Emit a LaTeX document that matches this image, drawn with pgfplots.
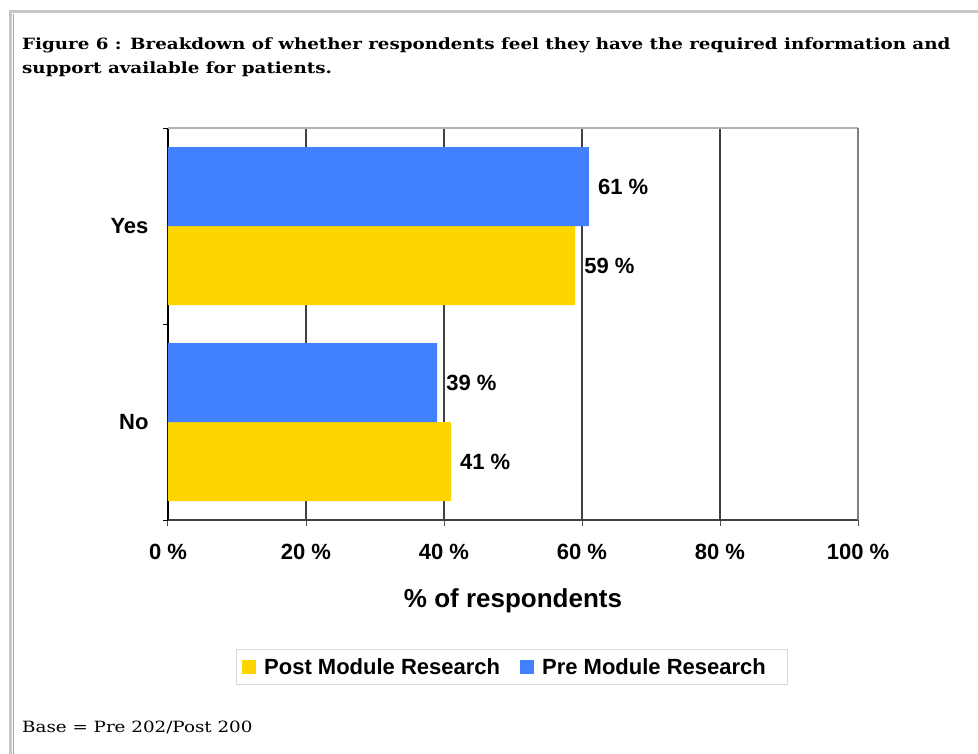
\documentclass[border=0pt]{standalone}
\usepackage{pgfplots}
\pgfplotsset{compat=1.18}
\usepackage{fontspec}
\setmainfont{Liberation Sans}
\newfontfamily\titlefont[FakeStretch=1.18]{DejaVu Serif}
\definecolor{prebl}{RGB}{65,128,255}
\definecolor{postyl}{RGB}{255,213,0}
\begin{document}
\begin{tikzpicture}[x=1pt,y=1pt]
\path[use as bounding box] (0,0) rectangle (978,-754);
\fill[white] (0,0) rectangle (978,-754);
\draw[line width=3pt, black!22] (10,-754) -- (10,-11.5) -- (978,-11.5);
\draw[line width=0.8pt, black!35] (13,-754) -- (13,-14);
\node[anchor=base west, align=left, font=\titlefont\bfseries\fontsize{15.5}{24}\selectfont, inner sep=0] at (22,-74) {Figure 6 : Breakdown of whether respondents feel they have the required information and\\support available for patients.};
\node[anchor=base west, font=\titlefont\fontsize{15.5}{18}\selectfont, inner sep=0] at (22,-732) {Base = Pre 202/Post 200};
\begin{axis}[
  at={(168pt,-520pt)}, anchor=south west,
  width=690pt, height=392pt, scale only axis,
  xbar, xmin=0, xmax=100, ymin=-0.5, ymax=1.5,
  axis x line*=bottom, axis y line*=left,
  x axis line style={line width=1.6pt, color=black!75},
  y axis line style={line width=1.2pt, black},
  tick align=outside,
  xtick={0,20,40,60,80,100},
  xticklabels={0 \%,20 \%,40 \%,60 \%,80 \%,100 \%},
  xtick style={black!70, line width=1pt},
  major tick length=6pt,
  ytick={0,1}, yticklabels={No,Yes},
  minor ytick={-0.5,0.5,1.5},
  minor tick length=5pt,
  ytick style={draw=none},
  minor y tick style={draw=black, line width=1pt},
  xmajorgrids, grid style={black!75, line width=1.1pt},
  tick label style={font=\bfseries\fontsize{22}{24}\selectfont},
  yticklabel style={xshift=-10pt},
  xticklabel style={yshift=-15pt},
  xlabel={\% of respondents},
  xlabel style={font=\bfseries\fontsize{26}{28}\selectfont, yshift=-22pt},
  nodes near coords={\pgfplotspointmeta~\%},
  nodes near coords align={horizontal},
  every node near coord/.append style={font=\bfseries\fontsize{22}{24}\selectfont, black, anchor=west, inner sep=0pt, xshift=9pt},
  point meta=explicit symbolic,
  legend columns=2,
  legend style={at={(0.4986,-0.375)}, anchor=center, draw=black!15, line width=1.2pt,
    font=\bfseries\fontsize{22}{24}\selectfont, inner xsep=6pt, inner ysep=7pt,
    /tikz/every even column/.append style={column sep=18pt}},
  legend image code/.code={\fill[#1] (0pt,-7pt) rectangle (14pt,7pt); \path (20pt,0pt);},
  legend cell align=left,
  clip=false,
]
\addplot[fill=postyl, draw=none, bar width=79pt, bar shift=-39.5pt] coordinates {(59,1) [59] (41,0) [41]};
\addlegendentry{Post Module Research}
\addplot[fill=prebl, draw=none, bar width=79pt, bar shift=39.5pt] coordinates {(61,1) [61] (39,0) [39]};
\addlegendentry{Pre Module Research\kern14pt}
\draw[black!30, line width=1.5pt] (rel axis cs:0,1) -- (rel axis cs:1,1);
\draw[black!50, line width=2pt] (rel axis cs:1,0) -- (rel axis cs:1,1);
\end{axis}
\end{tikzpicture}
\end{document}
